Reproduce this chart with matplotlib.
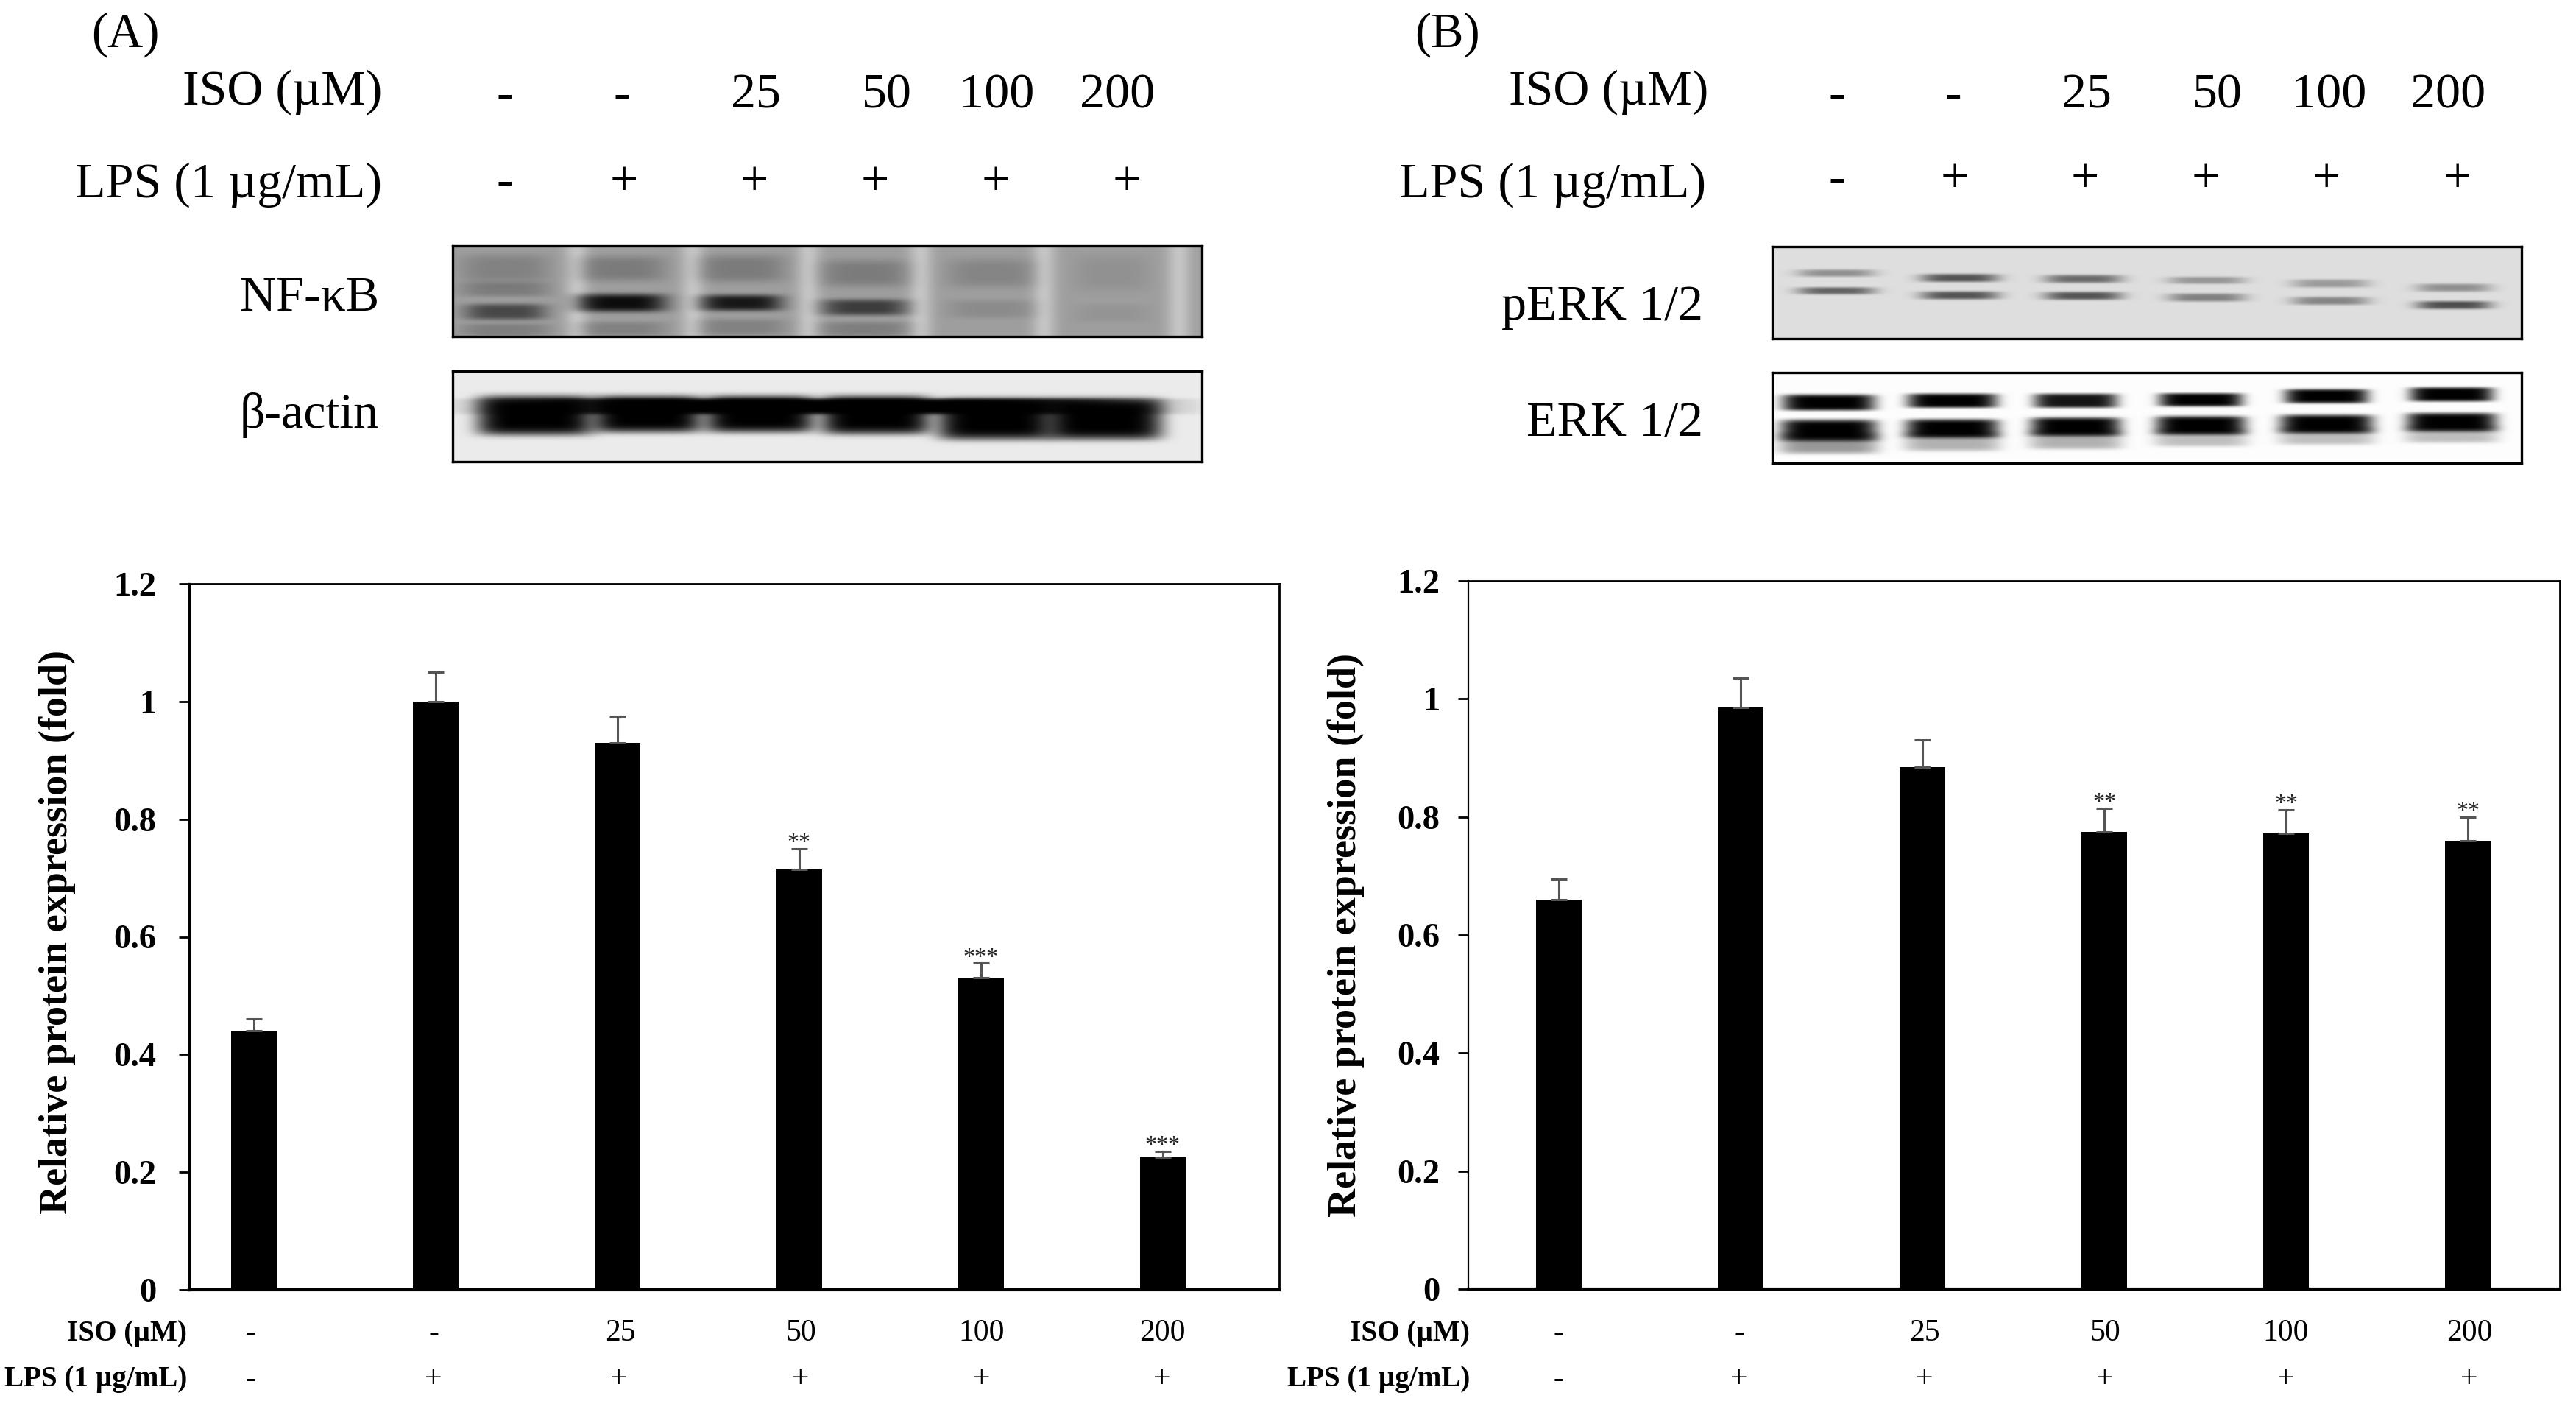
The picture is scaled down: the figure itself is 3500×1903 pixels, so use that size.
import numpy as np
import matplotlib
matplotlib.use("Agg")
import matplotlib.pyplot as plt

plt.rcParams['font.family'] = ['Liberation Serif', 'DejaVu Serif']
W, H = 3500, 1903

iso_labels = ['-', '-', '25', '50', '100', '200']
lps_labels = ['-', '+', '+', '+', '+', '+']
yticks = [0, 0.2, 0.4, 0.6, 0.8, 1.0, 1.2]
ytick_labels = ['0', '0.2', '0.4', '0.6', '0.8', '1', '1.2']

values_a = [0.44, 1.00, 0.93, 0.715, 0.53, 0.225]
errors_a = [0.02, 0.05, 0.045, 0.035, 0.025, 0.01]
stars_a = ['', '', '', '**', '***', '***']
values_b = [0.66, 0.985, 0.885, 0.775, 0.772, 0.76]
errors_b = [0.035, 0.05, 0.045, 0.04, 0.04, 0.04]
stars_b = ['', '', '', '**', '**', '**']

# blot bands: lane centre, half width, row centre, half height, darkness (fractions of the blot)
nfkb_bands = [(0.07, 0.055, 0.73, 0.09, 0.55), (0.225, 0.06, 0.63, 0.10, 0.92), (0.385, 0.055, 0.63, 0.09, 0.85),
              (0.55, 0.058, 0.68, 0.09, 0.62), (0.72, 0.06, 0.70, 0.10, 0.12), (0.88, 0.05, 0.75, 0.10, 0.06),
              (0.07, 0.06, 0.25, 0.16, 0.18), (0.07, 0.06, 0.48, 0.08, 0.22), (0.225, 0.06, 0.25, 0.14, 0.22),
              (0.385, 0.06, 0.25, 0.15, 0.22), (0.55, 0.06, 0.3, 0.15, 0.22), (0.72, 0.06, 0.3, 0.16, 0.16),
              (0.225, 0.06, 0.92, 0.08, 0.18), (0.385, 0.06, 0.9, 0.09, 0.18), (0.55, 0.06, 0.92, 0.08, 0.2),
              (0.07, 0.06, 0.93, 0.07, 0.2), (0.88, 0.05, 0.3, 0.2, 0.08)]
nfkb_gaps = [0.165, 0.32, 0.475, 0.625, 0.79, 0.97]
actin_bands = [(0.495, 0.42, 0.39, 0.09, 1.0),
               (0.11, 0.078, 0.49, 0.22, 1.0), (0.26, 0.073, 0.475, 0.205, 1.0), (0.41, 0.073, 0.475, 0.205, 1.0),
               (0.565, 0.073, 0.485, 0.215, 1.0), (0.725, 0.078, 0.53, 0.23, 1.0), (0.87, 0.078, 0.53, 0.23, 1.0)]
perk_bands = [(0.085, 0.052, 0.286, 0.04, 0.35), (0.085, 0.052, 0.48, 0.04, 0.55),
              (0.25, 0.052, 0.34, 0.045, 0.62), (0.25, 0.052, 0.53, 0.045, 0.62),
              (0.415, 0.052, 0.35, 0.045, 0.52), (0.415, 0.052, 0.535, 0.045, 0.62),
              (0.58, 0.052, 0.365, 0.04, 0.32), (0.58, 0.052, 0.553, 0.045, 0.42),
              (0.745, 0.052, 0.40, 0.045, 0.3), (0.745, 0.052, 0.59, 0.045, 0.4),
              (0.91, 0.05, 0.446, 0.045, 0.35), (0.91, 0.05, 0.636, 0.045, 0.65)]
erk_bands = [(0.075, 0.062, 0.33, 0.09, 1.0), (0.075, 0.064, 0.64, 0.12, 1.0), (0.075, 0.066, 0.78, 0.12, 0.4),
             (0.24, 0.06, 0.31, 0.08, 1.0), (0.24, 0.062, 0.62, 0.105, 1.0), (0.24, 0.064, 0.76, 0.11, 0.3),
             (0.405, 0.056, 0.31, 0.08, 0.92), (0.405, 0.06, 0.60, 0.105, 1.0), (0.405, 0.062, 0.74, 0.11, 0.3),
             (0.572, 0.056, 0.30, 0.075, 1.0), (0.572, 0.06, 0.585, 0.105, 1.0), (0.572, 0.062, 0.72, 0.1, 0.25),
             (0.74, 0.056, 0.26, 0.08, 1.0), (0.74, 0.062, 0.57, 0.105, 1.0), (0.74, 0.064, 0.70, 0.1, 0.25),
             (0.907, 0.056, 0.24, 0.08, 1.0), (0.907, 0.06, 0.55, 0.105, 1.0), (0.907, 0.062, 0.68, 0.1, 0.25)]


def px_axes(x0, y0, x1, y1):
    return fig.add_axes([x0 / W, 1 - y1 / H, (x1 - x0) / W, (y1 - y0) / H])


def text(x, y, s, size, ha='center', weight='normal', **kw):
    fig.text(x / W, 1 - y / H, s, fontsize=size, ha=ha, va='center', fontweight=weight, **kw)


def blot(box, bands, bg, gaps=(), power=2):
    x0, y0, x1, y1 = box
    ny, nx = int(y1 - y0), int(x1 - x0)
    xx, yy = np.meshgrid(np.linspace(0, 1, nx), np.linspace(0, 1, ny))
    img = np.full((ny, nx), bg, dtype=float)
    for g in gaps:
        img += 0.15 * np.exp(-((xx - g) / 0.016) ** 2)
    clear = np.ones_like(img)
    for cx, wx, cy, wy, dark in bands:
        clear *= 1 - dark * np.exp(-np.abs((xx - cx) / wx) ** (2 * power) - np.abs((yy - cy) / wy) ** (2 * power))
    img = np.clip(img * clear, 0, 1)
    ax = px_axes(*box)
    ax.imshow(img, cmap='gray', vmin=0, vmax=1, aspect='auto', interpolation='bicubic')
    ax.set_xticks([])
    ax.set_yticks([])
    for s in ax.spines.values():
        s.set_linewidth(2.4)


def bars(box, values, errors, stars, xlim, label_x, label_y, label_right, tick_pad, left_lw, iso_x, lps_x):
    x0, y0, x1, y1 = box
    ax = px_axes(*box)
    xs = np.arange(len(values))
    ax.bar(xs, values, width=0.253, color='black')
    ax.errorbar(xs, values, yerr=[np.zeros(len(values)), errors], fmt='none', ecolor='#555555',
                elinewidth=2.2, capsize=8, capthick=2.2)
    for x, v, e, s in zip(xs, values, errors, stars):
        if s:
            ax.text(x, v + e - 0.009, s, ha='center', va='bottom', fontsize=23, color='#222222')
    ax.set_xlim(*xlim)
    ax.set_ylim(0, 1.2)
    ax.set_xticks([])
    ax.set_yticks(yticks)
    ax.set_yticklabels(ytick_labels, fontsize=33.5, fontweight='bold')
    ax.tick_params(axis='y', length=10, width=2, pad=tick_pad)
    ax.spines['left'].set_linewidth(left_lw)
    ax.spines['top'].set_linewidth(2)
    ax.spines['right'].set_linewidth(2)
    ax.spines['bottom'].set_linewidth(3)
    text(label_x, label_y, 'Relative protein expression (fold)', 39, weight='bold', rotation=90)
    text(label_right, 1812, 'ISO (µM)', 28.2, ha='right', weight='bold')
    text(label_right, 1874, 'LPS (1 µg/mL)', 28.2, ha='right', weight='bold')
    for x, s in zip(iso_x, iso_labels):
        text(x, 1811, s, 30)
    for x, s in zip(lps_x, lps_labels):
        text(x, 1874, s, 30)


fig = plt.figure(figsize=(W / 100, H / 100), dpi=100, facecolor='white')

# Panel A header
text(170, 47, '(A)', 48)
text(519, 125, 'ISO (µM)', 49, ha='right')
text(519, 251, 'LPS (1 µg/mL)', 49, ha='right')
for x, s in zip([686, 845, 1027, 1205, 1354, 1518], iso_labels):
    text(x, 130, s, 49)
for x, s in zip([686, 848, 1025, 1189, 1353, 1531], lps_labels):
    text(x, 248, s, 49)
text(515, 405, 'NF-κB', 49, ha='right')
text(515, 564, 'β-actin', 49, ha='right')
blot((615, 334, 1633, 457), nfkb_bands, 0.62, gaps=nfkb_gaps)
blot((615, 504, 1633, 627), actin_bands, 0.92, power=3)

# Panel B header
text(1966, 47, '(B)', 48)
text(2321, 125, 'ISO (µM)', 49, ha='right')
text(2318, 251, 'LPS (1 µg/mL)', 49, ha='right')
for x, s in zip([2496, 2654, 2835, 3013, 3164, 3326], iso_labels):
    text(x, 130, s, 49)
for x, s in zip([2496, 2656, 2833, 2997, 3161, 3339], lps_labels):
    text(x, 245, s, 49)
text(2314, 417, 'pERK 1/2', 49, ha='right')
text(2314, 576, 'ERK 1/2', 49, ha='right')
blot((2408, 335, 3426, 460), perk_bands, 0.87)
blot((2408, 506, 3426, 629), erk_bands, 0.99, power=3)

# Bar charts
bars((257, 793, 1738, 1752), values_a, errors_a, stars_a, (-0.356, 5.64), 78, 1266, 254, 22, 2.4,
     [340, 589, 843, 1088, 1334, 1579], [340, 589, 841, 1088, 1334, 1579])
bars((1995, 789, 3478, 1751), values_b, errors_b, stars_b, (-0.498, 5.505), 1829, 1270, 1997, 18, 1.6,
     [2117, 2363, 2615, 2860, 3106, 3355], [2117, 2363, 2615, 2860, 3106, 3355])

fig.savefig('out.png', dpi=100, facecolor='white')
